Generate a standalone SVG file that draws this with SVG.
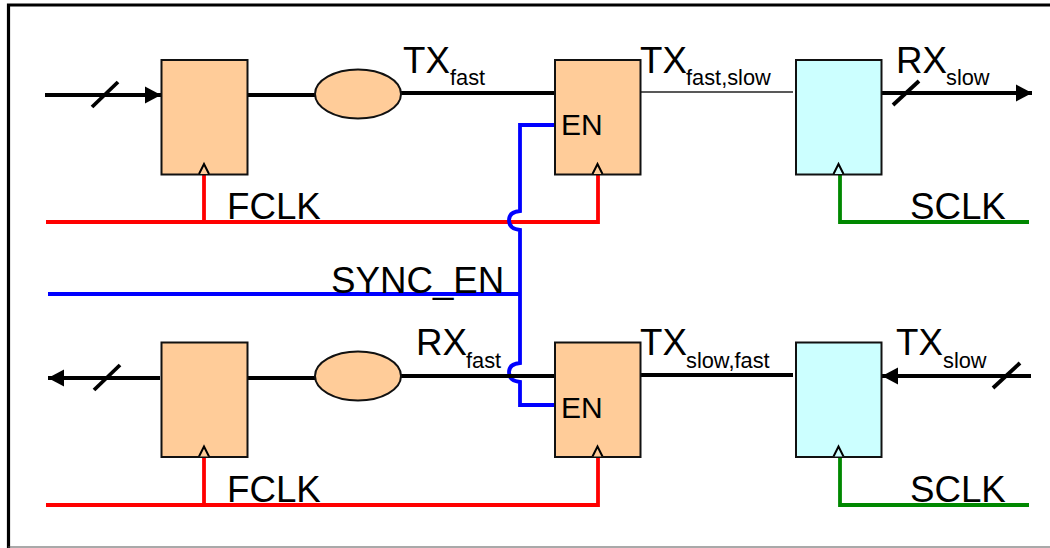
<svg xmlns="http://www.w3.org/2000/svg" width="1050" height="548" viewBox="0 0 1050 548">
<defs>
<marker id="ah" markerUnits="userSpaceOnUse" markerWidth="18" markerHeight="18" refX="16" refY="9" orient="auto-start-reverse"><path d="M0,0.5L16,9L0,17.5Z" fill="#000"/></marker>
</defs>
<style>
.b{fill:#fc9;stroke:#111;stroke-width:2}
.c{fill:#cff;stroke:#111;stroke-width:2}
.e{fill:#fc9;stroke:#111;stroke-width:2}
.t{fill:#fc9;stroke:#000;stroke-width:2}
.tc{fill:#cff;stroke:#000;stroke-width:2}
.w{fill:none;stroke-linejoin:miter}
.k{stroke:#000;stroke-width:3.8}
.r{stroke:#f00;stroke-width:3.8}
.u{stroke:#00f;stroke-width:3.8}
.g{stroke:#080;stroke-width:3.8}
text{font-family:"Liberation Sans",Arial,sans-serif;fill:#000}
.l{font-size:36.700px}
.s{font-size:21.800px}
.m{font-size:30px}
</style>
<path d="M8.500,548V5H1050" fill="#fff" stroke="#000" stroke-width="3.200"/>
<path d="M8,547H1050" fill="none" stroke="#555" stroke-width="1.200"/>
<g id="connectors">
<path class="w k" d="M45,95H161" marker-end="url(#ah)"/>
<path class="w k" d="M92,107L118,82"/>
<path class="w k" d="M248,95H316"/>
<path class="w k" d="M400,93H555"/>
<path class="w" stroke="#222" stroke-width="1.600" d="M641,92H793"/>
<path class="w k" d="M882,93H1032" marker-end="url(#ah)"/>
<path class="w k" d="M893,105L919,81"/>
<path class="w r" d="M46,222H598V175"/>
<path class="w r" d="M204,222V175"/>
<path class="w u" d="M555,125H520V211Q509,212 509,220Q509,229 520,230V294H48M520,294V363Q509,364 509,372Q509,381 520,382V405H555"/>
<path class="w g" d="M840,175V222H1029"/>
<path class="w k" d="M160,378H48" marker-end="url(#ah)"/>
<path class="w k" d="M94,390L120,365"/>
<path class="w k" d="M248,378H316"/>
<path class="w k" d="M400,376H555"/>
<path class="w k" d="M641,375H793"/>
<path class="w k" d="M1031,376H882" marker-end="url(#ah)"/>
<path class="w k" d="M993,388L1020,363"/>
<path class="w r" d="M46,505H598V458"/>
<path class="w r" d="M204,505V458"/>
<path class="w g" d="M840,458V505H1029"/>
</g>
<g id="ff-tl"><rect class="b" x="161.500" y="60" width="86" height="114.500"/><path class="t" d="M199,174L204,164L209,174"/></g>
<g id="ellipse-t"><ellipse class="e" cx="358" cy="94" rx="43" ry="24.500"/></g>
<g id="ff-tm"><rect class="b" x="555" y="60" width="85.500" height="114.500"/><path class="t" d="M592.500,174L597.500,164L602.500,174"/><text x="561" y="135" class="m">EN</text></g>
<g id="ff-tr"><rect class="c" x="796" y="60" width="85.500" height="114.500"/><path class="tc" d="M833.500,174L838.500,164L843.500,174"/></g>
<g id="ff-bl"><rect class="b" x="161.500" y="342.500" width="86" height="114.500"/><path class="t" d="M199,456.500L204,446.500L209,456.500"/></g>
<g id="ellipse-b"><ellipse class="e" cx="358" cy="376" rx="43" ry="24.500"/></g>
<g id="ff-bm"><rect class="b" x="555" y="342.500" width="85.500" height="114.500"/><path class="t" d="M592.500,456.500L597.500,446.500L602.500,456.500"/><text x="561" y="418" class="m">EN</text></g>
<g id="ff-br"><rect class="c" x="796" y="342.500" width="85.500" height="114.500"/><path class="tc" d="M833.500,456.500L838.500,446.500L843.500,456.500"/></g>
<g id="labels">
<text x="403" y="73" class="l">TX</text><text x="450" y="85" class="s">fast</text>
<text x="640" y="73" class="l">TX</text><text x="686" y="85" class="s">fast,slow</text>
<text x="896" y="73" class="l">RX</text><text x="946" y="85" class="s">slow</text>
<text x="227" y="219" class="l">FCLK</text>
<text x="910" y="219" class="l">SCLK</text>
<text x="331" y="293" class="l">SYNC_EN</text>
<text x="416" y="355" class="l">RX</text><text x="466" y="368" class="s">fast</text>
<text x="640" y="355" class="l">TX</text><text x="686" y="368" class="s">slow,fast</text>
<text x="896" y="355" class="l">TX</text><text x="943" y="368" class="s">slow</text>
<text x="227" y="502" class="l">FCLK</text>
<text x="910" y="502" class="l">SCLK</text>
</g>
</svg>
